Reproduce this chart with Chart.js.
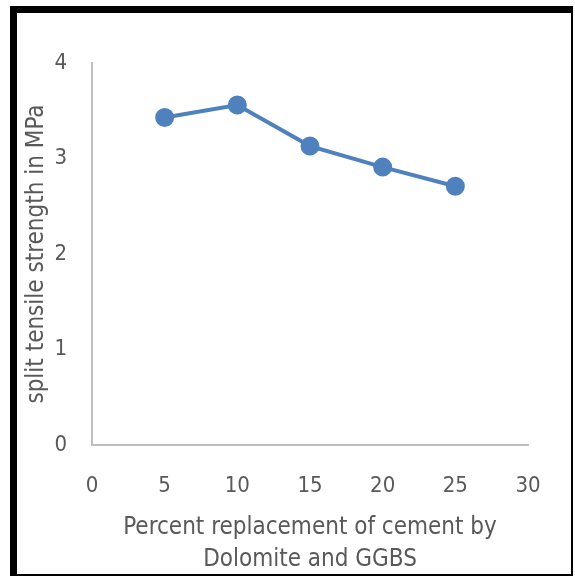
<!DOCTYPE html>
<html>
<head>
<script src="https://cdn.jsdelivr.net/npm/chart.js@4.4.1/dist/chart.umd.min.js"></script>
<style>
  body { margin: 0; background: #fff; }
  #frame {
    position: absolute; left: 10px; top: 6px; width: 563px; height: 570px;
    border-style: solid; border-color: #000;
    border-width: 7px 2px 2px 7px; box-sizing: border-box;
  }
  #wrap { position: absolute; left: 0; top: 0; width: 575px; height: 578px; }
</style>
</head>
<body>
<div id="frame"></div>
<div id="wrap"><canvas id="line-chart" width="575" height="578"></canvas></div>
<script>
// data
var percent = [5, 10, 15, 20, 25];
var strength = [3.43, 3.56, 3.13, 2.91, 2.71];
var xTitle = ['Percent replacement of cement by', 'Dolomite and GGBS'];
var yTitle = 'split tensile strength in MPa';

var fontName = '"Liberation Sans Narrow", "DejaVu Sans Condensed", sans-serif';
var grey = '#595959';

var points = percent.map(function (p, i) { return { x: p, y: strength[i] }; });

var ctx = document.getElementById('line-chart');
var chart = new Chart(ctx, {
    type: 'scatter',
    data: {
        datasets: [{
            data: points,
            showLine: true,
            borderColor: '#4F81BD',
            backgroundColor: '#4F81BD',
            borderWidth: 4,
            pointRadius: 7.5,
            pointHoverRadius: 7.5
        }]
    },
    options: {
        responsive: false,
        animation: false,
        layout: { padding: { left: 0, top: 63, right: 47, bottom: 0 } },
        plugins: { legend: { display: false }, tooltip: { enabled: false } },
        scales: {
            x: {
                min: 0, max: 30,
                ticks: { stepSize: 5, padding: 28, color: grey, font: { family: fontName, size: 22 } },
                grid: { display: false, drawTicks: false },
                border: { display: true, color: '#BFBFBF', width: 2 },
                title: { display: true, text: xTitle, color: grey, padding: { top: 4, bottom: 2 },
                    font: { family: fontName, size: 24, lineHeight: 1.35 } },
                afterFit: function (scale) { scale.height = 578 - 445; }
            },
            y: {
                min: 0, max: 4,
                ticks: { stepSize: 1, padding: 25, color: grey, font: { family: fontName, size: 22 } },
                grid: { display: false, drawTicks: false },
                border: { display: true, color: '#BFBFBF', width: 2 },
                title: { display: true, text: yTitle, color: grey, padding: { top: 22 },
                    font: { family: fontName, size: 24 } },
                afterFit: function (scale) { scale.width = 92; }
            }
        }
    }
});
</script>
</body>
</html>
